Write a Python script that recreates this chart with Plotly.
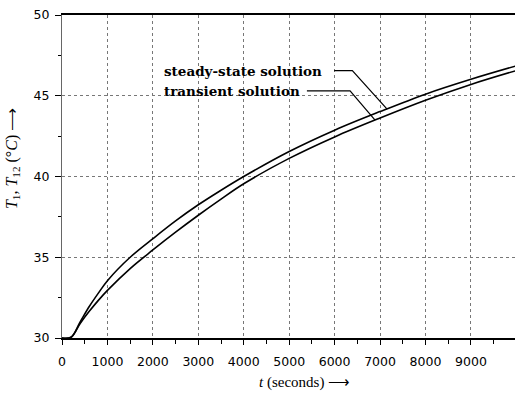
import numpy as np
import plotly.graph_objects as go

# Data
t_sec = [0, 200, 400, 600, 800, 1000, 1500, 2000, 2500, 3000, 3500, 4000,
         5000, 6000, 7000, 8000, 9000, 10000]
T_steady = [30.0, 30.05, 31.0, 31.95, 32.78, 33.55, 35.0, 36.15, 37.25, 38.25, 39.15, 40.0,
            41.55, 42.87, 44.02, 45.1, 46.02, 46.85]
T_transient = [30.0, 30.05, 30.9, 31.65, 32.33, 32.95, 34.3, 35.45, 36.55, 37.6, 38.6, 39.55,
               41.12, 42.45, 43.62, 44.72, 45.7, 46.56]

x_ticks = [0, 1000, 2000, 3000, 4000, 5000, 6000, 7000, 8000, 9000]
y_ticks = [30, 35, 40, 45, 50]

labels = ["steady-state solution", "transient solution"]
label_t = [2200, 2200]
label_T = [46.55, 45.3]
leader_start_t = [5990, 5390]
leader_bend_t = [6390, 6340]
leader_end_t = [7150, 6890]

fig = go.Figure()
fig.add_trace(go.Scatter(x=t_sec, y=T_steady, mode="lines",
                         line=dict(color="black", width=1.6, shape="spline", smoothing=1.0),
                         name="steady-state solution", showlegend=False))
fig.add_trace(go.Scatter(x=t_sec, y=T_transient, mode="lines",
                         line=dict(color="black", width=1.6, shape="spline", smoothing=1.0),
                         name="transient solution", showlegend=False))

curves = [T_steady, T_transient]
for i in range(2):
    end_T = float(np.interp(leader_end_t[i], t_sec, curves[i]))
    path = (f"M {leader_start_t[i]},{label_T[i]} L {leader_bend_t[i]},{label_T[i]} "
            f"L {leader_end_t[i]},{end_T}")
    fig.add_shape(type="path", path=path, xref="x", yref="y",
                  line=dict(color="black", width=1.2))
    fig.add_annotation(x=label_t[i], y=label_T[i], xref="x", yref="y", text=f"<b>{labels[i]}</b>",
                       showarrow=False, xanchor="left", yanchor="middle",
                       font=dict(family="DejaVu Serif", size=13.5, color="black"))

# axis titles
fig.add_annotation(x=0, y=0.554, xref="paper", yref="paper", xshift=-50,
                   text="<i>T</i><sub>1</sub>, <i>T</i><sub>12</sub> (°<i>C</i>) ⟶",
                   textangle=-90, showarrow=False, xanchor="center", yanchor="middle",
                   font=dict(family="Liberation Serif", size=16, color="black"))
fig.add_annotation(x=5330, y=0, xref="x", yref="paper", yshift=-44,
                   text="<i>t</i> (seconds) ⟶", showarrow=False, xanchor="center", yanchor="middle",
                   font=dict(family="Liberation Serif", size=15, color="black"))

fig.update_xaxes(range=[0, 9970], tickvals=x_ticks, ticktext=[str(v) for v in x_ticks],
                 showgrid=True, gridcolor="#777", griddash="dot", gridwidth=1,
                 showline=True, linecolor="black", linewidth=1.5, mirror=True,
                 ticks="outside", ticklen=5, tickcolor="black", zeroline=False,
                 ticklabelstandoff=6,
                 minor=dict(dtick=500, tick0=0, ticks="outside", ticklen=4, tickcolor="black", showgrid=False),
                 tickfont=dict(family="DejaVu Sans", size=12.5, color="black"))
fig.update_yaxes(range=[30, 50], tickvals=y_ticks, ticktext=[str(v) for v in y_ticks],
                 showgrid=True, gridcolor="#777", griddash="dot", gridwidth=1,
                 showline=True, linecolor="#666", linewidth=1, mirror=False,
                 ticks="outside", ticklen=6, tickcolor="black", zeroline=False,
                 ticklabelstandoff=3,
                 minor=dict(dtick=2.5, tick0=30, ticks="outside", ticklen=3, tickcolor="black", showgrid=False),
                 tickfont=dict(family="DejaVu Sans", size=12.5, color="black"))

fig.update_layout(width=515, height=393, margin=dict(l=62, r=0, t=15, b=55),
                  plot_bgcolor="white", paper_bgcolor="white", showlegend=False)

fig.write_html("out.html")
